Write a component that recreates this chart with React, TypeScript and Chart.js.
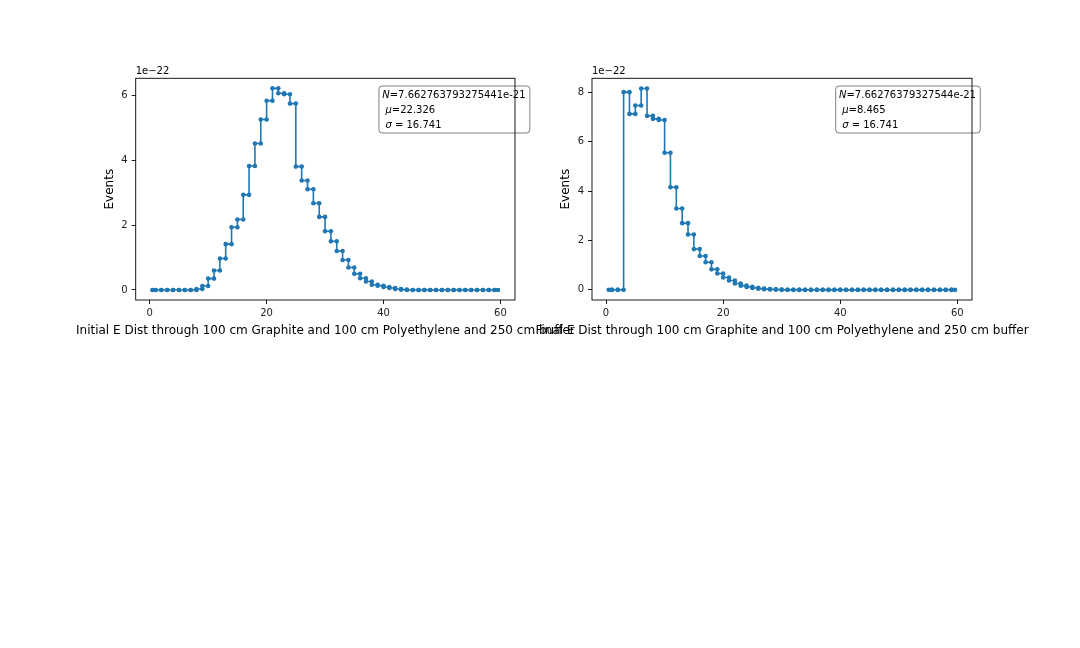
import React, { useEffect, useRef } from "react";
import { Chart, registerables } from "chart.js";

Chart.register(...registerables);

// ---------- data (y values in units of 1e-22) ----------
const binEdges = [
  0.45, 1, 2, 3, 4, 5, 6, 7, 8, 9, 10, 11, 12, 13, 14, 15, 16, 17, 18, 19, 20,
  21, 22, 23, 24, 25, 26, 27, 28, 29, 30, 31, 32, 33, 34, 35, 36, 37, 38, 39, 40,
  41, 42, 43, 44, 45, 46, 47, 48, 49, 50, 51, 52, 53, 54, 55, 56, 57, 58, 59, 59.6,
];

const initialEvents = [
  0, 0, 0, 0, 0, 0, 0, 0, 0.03, 0.12,
  0.35, 0.6, 0.97, 1.41, 1.93, 2.17, 2.93, 3.82, 4.51, 5.25,
  5.83, 6.21, 6.06, 6.03, 5.74, 3.8, 3.37, 3.1, 2.67, 2.25,
  1.81, 1.5, 1.2, 0.92, 0.69, 0.5, 0.36, 0.26, 0.16, 0.13,
  0.09, 0.06, 0.03, 0.01, 0, 0, 0, 0, 0, 0,
  0, 0, 0, 0, 0, 0, 0, 0, 0, 0,
];

const finalEvents = [
  0, 0, 0, 8.0, 7.12, 7.46, 8.15, 7.04, 6.92, 6.87,
  5.55, 4.15, 3.29, 2.7, 2.24, 1.65, 1.37, 1.12, 0.83, 0.66,
  0.5, 0.38, 0.26, 0.17, 0.12, 0.08, 0.05, 0.03, 0.02, 0.01,
  0, 0, 0, 0, 0, 0, 0, 0, 0, 0,
  0, 0, 0, 0, 0, 0, 0, 0, 0, 0,
  0, 0, 0, 0, 0, 0, 0, 0, 0, 0,
];

const xTicks = [0, 20, 40, 60];
const yTicksInitial = [0, 2, 4, 6];
const yTicksFinal = [0, 2, 4, 6, 8];

const offsetLabel = "1e\u221222";
const yTitle = "Events";
const initialTitle =
  "Initial E Dist through 100 cm Graphite and 100 cm Polyethylene and 250 cm buffer";
const finalTitle =
  "Final E Dist through 100 cm Graphite and 100 cm Polyethylene and 250 cm buffer";

const initialN = "7.662763793275441e-21";
const initialMu = "22.326";
const initialSigma = "16.741";
const finalN = "7.66276379327544e-21";
const finalMu = "8.465";
const finalSigma = "16.741";

// ---------- styling ----------
const W = 1080;
const H = 648;
const FONT = "'DejaVu Sans', 'Liberation Sans', sans-serif";
const TICK_FS = 10;
const LABEL_FS = 12;
const STAT_FS = 10;
const BLUE = "#1f77b4";

type Seg = { t: string; i?: boolean };

function stepPoints(edges: number[], values: number[]) {
  const pts: { x: number; y: number }[] = [];
  values.forEach((v, i) => {
    pts.push({ x: edges[i], y: v });
    pts.push({ x: edges[i + 1], y: v });
  });
  return pts;
}

function statLines(n: string, mu: string, sigma: string): Seg[][] {
  return [
    [{ t: "N", i: true }, { t: "=" + n }],
    [{ t: " " }, { t: "\u03bc", i: true }, { t: "=" + mu }],
    [{ t: " " }, { t: "\u03c3", i: true }, { t: " = " + sigma }],
  ];
}

function setFont(ctx: CanvasRenderingContext2D, size: number, italic?: boolean) {
  ctx.font = `${italic ? "italic " : ""}${size}px ${FONT}`;
}

function segWidth(ctx: CanvasRenderingContext2D, line: Seg[]) {
  let w = 0;
  for (const s of line) {
    setFont(ctx, STAT_FS, s.i);
    w += ctx.measureText(s.t).width;
  }
  return w;
}

function makeOverlay(lines: Seg[][], title: string) {
  return {
    id: "overlay",
    afterDraw(chart: any) {
      const { ctx, chartArea } = chart;
      const { left, right, top, bottom } = chartArea;
      const w = right - left;
      ctx.save();
      // stats box
      const tx = left + 0.65 * w;
      const pad = 3.3;
      const lineH = 15;
      const maxW = Math.max(...lines.map((l) => segWidth(ctx, l)));
      const bx = tx - pad;
      const by = top + 7.7;
      const bw = maxW + 2 * pad + 1;
      const bh = 47;
      const r = 3.3;
      ctx.beginPath();
      ctx.moveTo(bx + r, by);
      ctx.lineTo(bx + bw - r, by);
      ctx.quadraticCurveTo(bx + bw, by, bx + bw, by + r);
      ctx.lineTo(bx + bw, by + bh - r);
      ctx.quadraticCurveTo(bx + bw, by + bh, bx + bw - r, by + bh);
      ctx.lineTo(bx + r, by + bh);
      ctx.quadraticCurveTo(bx, by + bh, bx, by + bh - r);
      ctx.lineTo(bx, by + r);
      ctx.quadraticCurveTo(bx, by, bx + r, by);
      ctx.closePath();
      ctx.fillStyle = "rgba(255,255,255,0.5)";
      ctx.fill();
      ctx.strokeStyle = "rgba(0,0,0,0.5)";
      ctx.lineWidth = 1;
      ctx.stroke();

      ctx.fillStyle = "#000";
      ctx.textBaseline = "middle";
      ctx.textAlign = "left";
      lines.forEach((line, li) => {
        let x = tx;
        const y = by + 9 + li * lineH;
        for (const s of line) {
          setFont(ctx, STAT_FS, s.i);
          ctx.fillText(s.t, x, y);
          x += ctx.measureText(s.t).width;
        }
      });

      // axes frame
      ctx.strokeStyle = "#000";
      ctx.lineWidth = 0.9;
      ctx.strokeRect(left, top, w, bottom - top);

      // offset text
      setFont(ctx, TICK_FS, false);
      ctx.textBaseline = "bottom";
      ctx.fillText(offsetLabel, left, top - 2);

      // x-axis title (drawn unclipped so it may spill past the axes, as in the source)
      setFont(ctx, LABEL_FS, false);
      ctx.textAlign = "center";
      ctx.textBaseline = "middle";
      ctx.fillText(title, (left + right) / 2, bottom + 31);
      ctx.restore();
    },
  };
}

type Panel = {
  values: number[];
  yTicks: number[];
  yMin: number;
  yMax: number;
  title: string;
  lines: Seg[][];
  area: { left: number; right: number; top: number; bottom: number };
};

function buildChart(canvas: HTMLCanvasElement, p: Panel) {
  const yAxisW = 37;
  const xAxisH = 41;
  const tickFont = { family: FONT, size: TICK_FS };
  const labelFont = { family: FONT, size: LABEL_FS };
  return new Chart(canvas, {
    type: "line",
    data: {
      datasets: [
        {
          data: stepPoints(binEdges, p.values),
          borderColor: BLUE,
          backgroundColor: BLUE,
          borderWidth: 1.6,
          pointRadius: 2.3,
          pointBorderWidth: 0,
          pointBackgroundColor: BLUE,
          tension: 0,
          fill: false,
        },
      ],
    },
    options: {
      responsive: false,
      animation: false,
      devicePixelRatio: 1,
      layout: {
        padding: {
          left: p.area.left - yAxisW,
          right: W - p.area.right,
          top: p.area.top,
          bottom: H - (p.area.bottom + xAxisH),
        },
      },
      plugins: {
        legend: { display: false },
        tooltip: { enabled: false },
      },
      scales: {
        x: {
          type: "linear",
          min: -2.4,
          max: 62.5,
          afterBuildTicks: (s: any) => {
            s.ticks = xTicks.map((v) => ({ value: v }));
          },
          afterFit: (s: any) => {
            s.height = xAxisH;
          },
          border: { display: false },
          grid: {
            drawOnChartArea: false,
            drawTicks: true,
            tickLength: 4,
            color: "#000",
            lineWidth: 0.9,
          },
          ticks: {
            color: "#222",
            font: tickFont,
            padding: 3,
            maxRotation: 0,
            autoSkip: false,
            callback: (v: any) => String(v),
          },
          title: { display: false },
        },
        y: {
          type: "linear",
          min: p.yMin,
          max: p.yMax,
          afterBuildTicks: (s: any) => {
            s.ticks = p.yTicks.map((v) => ({ value: v }));
          },
          afterFit: (s: any) => {
            s.width = yAxisW;
          },
          border: { display: false },
          grid: {
            drawOnChartArea: false,
            drawTicks: true,
            tickLength: 4,
            color: "#000",
            lineWidth: 0.9,
          },
          ticks: {
            color: "#222",
            font: tickFont,
            padding: 4,
            autoSkip: false,
            callback: (v: any) => String(v),
          },
          title: {
            display: true,
            text: yTitle,
            color: "#000",
            font: labelFont,
            padding: { top: 4, bottom: 4 },
          },
        },
      },
    },
    plugins: [makeOverlay(p.lines, p.title)],
  } as any);
}

const panels: Panel[] = [
  {
    values: initialEvents,
    yTicks: yTicksInitial,
    yMin: -0.31,
    yMax: 6.52,
    title: initialTitle,
    lines: statLines(initialN, initialMu, initialSigma),
    area: { left: 135.7, right: 515, top: 78.3, bottom: 300 },
  },
  {
    values: finalEvents,
    yTicks: yTicksFinal,
    yMin: -0.41,
    yMax: 8.56,
    title: finalTitle,
    lines: statLines(finalN, finalMu, finalSigma),
    area: { left: 592, right: 972, top: 78.3, bottom: 300 },
  },
];

export default function App() {
  const ref1 = useRef<HTMLCanvasElement>(null);
  const ref2 = useRef<HTMLCanvasElement>(null);

  useEffect(() => {
    document.body.style.margin = "0";
    document.body.style.background = "#fff";
    const c1 = buildChart(ref1.current!, panels[0]);
    const c2 = buildChart(ref2.current!, panels[1]);
    return () => {
      c1.destroy();
      c2.destroy();
    };
  }, []);

  const canvasStyle: React.CSSProperties = {
    position: "absolute",
    left: 0,
    top: 0,
    width: W,
    height: H,
  };

  return (
    <div style={{ position: "relative", width: W, height: H, background: "#fff" }}>
      <canvas ref={ref1} width={W} height={H} style={canvasStyle} />
      <canvas ref={ref2} width={W} height={H} style={canvasStyle} />
    </div>
  );
}
